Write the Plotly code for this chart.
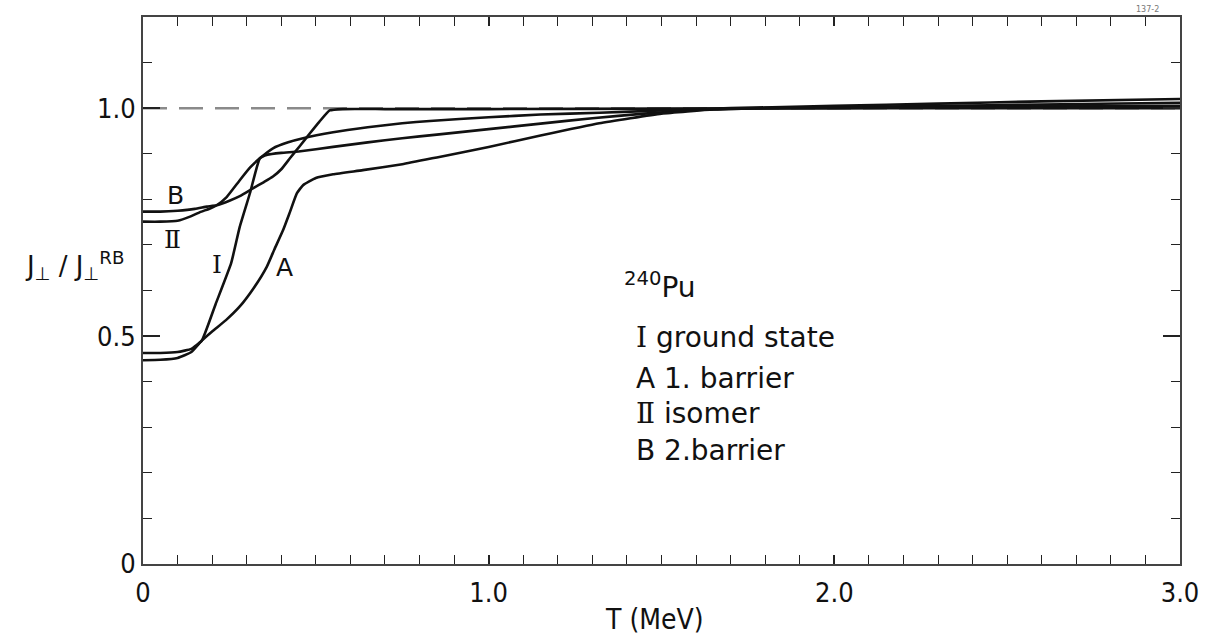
import plotly.graph_objects as go

# Temperature grid (MeV) and moment-of-inertia ratio J_perp / J_perp^RB for 240Pu
T_ground = [0, 0.05, 0.10, 0.14, 0.17, 0.21, 0.255, 0.28, 0.31, 0.338, 0.36, 0.40, 0.45,
            0.55, 0.65, 0.75, 0.85, 1.0, 1.15, 1.3, 1.45, 1.6, 1.8, 2.0, 2.3, 2.6, 3.0]
J_ground = [0.463, 0.463, 0.465, 0.472, 0.49, 0.57, 0.66, 0.74, 0.815, 0.89, 0.898, 0.902, 0.905,
            0.915, 0.925, 0.934, 0.942, 0.954, 0.966, 0.978, 0.988, 0.996, 1.0, 1.002, 1.005, 1.008, 1.012]

T_barrier1 = [0, 0.05, 0.10, 0.14, 0.17, 0.20, 0.24, 0.28, 0.32, 0.358, 0.38, 0.405, 0.425, 0.445,
              0.463, 0.50, 0.55, 0.636, 0.75, 0.85, 1.0, 1.15, 1.32, 1.5, 1.65, 1.8, 2.0, 2.3, 2.6, 3.0]
J_barrier1 = [0.447, 0.448, 0.452, 0.465, 0.49, 0.51, 0.535, 0.565, 0.605, 0.652, 0.69, 0.732, 0.772, 0.813,
              0.831, 0.847, 0.855, 0.864, 0.877, 0.892, 0.915, 0.94, 0.967, 0.988, 0.997, 1.0, 1.0, 1.002, 1.004, 1.005]

T_isomer = [0, 0.05, 0.10, 0.136, 0.165, 0.194, 0.213, 0.242, 0.28, 0.31, 0.338, 0.376, 0.42, 0.463,
            0.55, 0.65, 0.75, 0.83, 1.0, 1.15, 1.32, 1.5, 1.7, 2.0, 2.3, 2.6, 3.0]
J_isomer = [0.751, 0.751, 0.753, 0.762, 0.772, 0.78, 0.787, 0.805, 0.842, 0.87, 0.89, 0.912, 0.925, 0.934,
            0.947, 0.958, 0.967, 0.972, 0.98, 0.986, 0.99, 0.995, 1.0, 1.005, 1.01, 1.015, 1.02]

T_barrier2 = [0, 0.05, 0.10, 0.15, 0.185, 0.213, 0.25, 0.28, 0.318, 0.35, 0.376, 0.40, 0.425, 0.455,
              0.483, 0.51, 0.54, 0.58, 0.7, 1.0, 1.5, 2.0, 2.5, 3.0]
J_barrier2 = [0.773, 0.773, 0.775, 0.779, 0.784, 0.787, 0.797, 0.807, 0.824, 0.838, 0.85, 0.866, 0.89, 0.918,
              0.945, 0.97, 0.995, 0.998, 0.998, 0.998, 0.999, 1.0, 1.0, 1.0]

# Rigid-body reference level
T_rigid = [0, 3.0]
J_rigid = [1.0, 1.0]

x_ticks = [0, 1.0, 2.0, 3.0]
x_tick_text = ["0", "1.0", "2.0", "3.0"]
y_ticks = [0, 0.5, 1.0]
y_tick_text = ["0", "0.5", "1.0"]

SANS = "DejaVu Sans, sans-serif"
SERIF = "DejaVu Serif, serif"
TICK_FONT = dict(family="DejaVu Sans Condensed, Liberation Sans Narrow, sans-serif", size=27, color="#111")
TEXT_FONT = dict(family=SANS, size=28, color="#111")


def roman(s):
    return f'<span style="font-family:{SERIF}">{s}</span>'


fig = go.Figure()

fig.add_trace(go.Scatter(x=T_rigid, y=J_rigid, mode="lines",
                         line=dict(color="#8a8a8a", width=2.5, dash="24px,12px"),
                         hoverinfo="skip", showlegend=False))

for xs, ys in [(T_ground, J_ground), (T_barrier1, J_barrier1),
               (T_isomer, J_isomer), (T_barrier2, J_barrier2)]:
    fig.add_trace(go.Scatter(x=xs, y=ys, mode="lines",
                             line=dict(color="#111", width=2.6, shape="spline", smoothing=0.4),
                             showlegend=False))

axis_common = dict(showline=True, linecolor="#444", linewidth=2, mirror="allticks",
                   ticks="inside", tickcolor="#222", tickwidth=1.6,
                   showgrid=False, zeroline=False, tickfont=TICK_FONT, automargin=False)

fig.update_xaxes(range=[0, 3.0], tickmode="array", tickvals=x_ticks, ticktext=x_tick_text,
                 ticklen=9, ticklabelstandoff=4,
                 minor=dict(dtick=0.1, ticks="inside", ticklen=9, tickcolor="#222", tickwidth=1.4),
                 **axis_common)
fig.update_yaxes(range=[0, 1.2], tickmode="array", tickvals=y_ticks, ticktext=y_tick_text,
                 ticklen=17,
                 minor=dict(dtick=0.1, ticks="inside", ticklen=9, tickcolor="#222", tickwidth=1.4),
                 **axis_common)

# curve labels
curve_labels = [
    dict(x=0.095, y=0.808, text="B", font=dict(family=SANS, size=25, color="#111")),
    dict(x=0.085, y=0.712, text="Ⅱ", font=dict(family=SERIF, size=25, color="#111")),
    dict(x=0.214, y=0.656, text="Ⅰ", font=dict(family=SERIF, size=25, color="#111")),
    dict(x=0.408, y=0.650, text="A", font=dict(family=SANS, size=25, color="#111")),
]
for a in curve_labels:
    fig.add_annotation(xref="x", yref="y", showarrow=False, **a)

# key block
key_rows = [
    (0.498, roman("Ⅰ") + " ground state"),
    (0.408, "A 1. barrier"),
    (0.331, roman("Ⅱ") + " isomer"),
    (0.250, "B 2.barrier"),
]
for y, txt in key_rows:
    fig.add_annotation(x=1.42, y=y, xref="x", yref="y", text=txt, showarrow=False,
                       xanchor="left", yanchor="middle", font=TEXT_FONT)
fig.add_annotation(x=1.385, y=0.612, xref="x", yref="y", text="<sup>240</sup>Pu", showarrow=False,
                   xanchor="left", yanchor="middle", font=TEXT_FONT)

# axis titles
fig.add_annotation(x=-0.066, y=0.655, xref="paper", yref="y",
                   text="J<sub>⊥</sub> / J<sub>⊥</sub><sup>RB</sup>", showarrow=False,
                   xanchor="center", yanchor="middle", font=dict(family=SANS, size=26, color="#111"))
fig.add_annotation(x=1.481, y=-0.102, xref="x", yref="paper", text="T (MeV)", showarrow=False,
                   xanchor="center", yanchor="middle", font=dict(TICK_FONT, size=28))

# plate number
fig.add_annotation(x=0.982, y=1.025, xref="paper", yref="paper", text="137-2", showarrow=False,
                   font=dict(family=SANS, size=8, color="#777"))

fig.update_layout(width=1217, height=636, margin=dict(l=143, r=37, t=17, b=72, autoexpand=False),
                  paper_bgcolor="white", plot_bgcolor="white")

fig.write_html("out.html")
